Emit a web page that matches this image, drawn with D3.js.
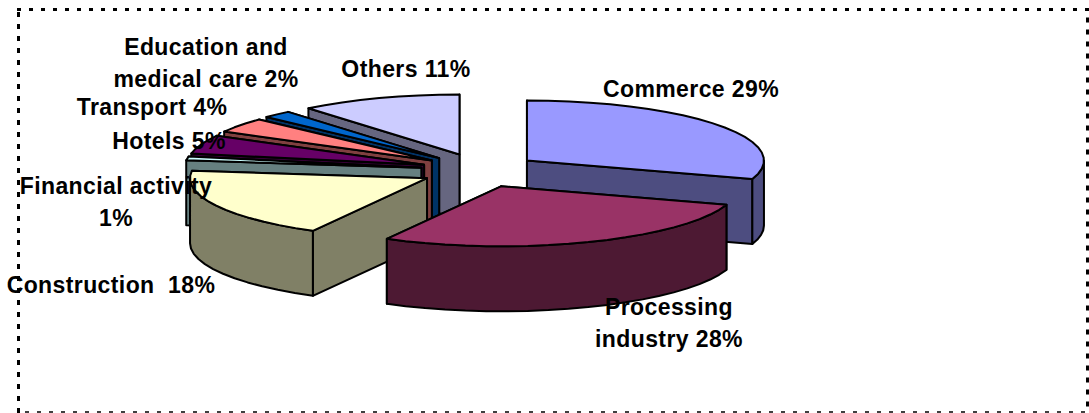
<!DOCTYPE html>
<html lang="en">
<head>
<meta charset="UTF-8" />
<script src="https://d3js.org/d3.v7.min.js"></script>
<style>
  html, body { margin: 0; padding: 0; background: #fff; }
  svg { display: block; }
  text { font-family: "Liberation Sans", Arial, sans-serif; font-weight: bold; font-size: 23px; letter-spacing: 0.4px; fill: #000; }
</style>
</head>
<body>
<svg width="1089" height="413"></svg>
<script>
// slices, clockwise from 12 o'clock
var categories = ['Commerce', 'Processing industry', 'Construction', 'Financial activity', 'Hotels', 'Transport', 'Education and medical care', 'Others'];
// size of each slice as drawn in the picture
var shares = [30, 28, 19, 1, 5, 4, 2, 11];
// the text printed on the chart
var labelLines = [
	['Commerce 29%'],
	['Processing', 'industry 28%'],
	['Construction  18%'],
	['Financial activity', '1%'],
	['Hotels 5%'],
	['Transport 4%'],
	['Education and', 'medical care 2%'],
	['Others 11%']
];
var topColors = ['#9999ff', '#993366', '#ffffcc', '#ccffff', '#660066', '#ff8080', '#0066cc', '#ccccff'];
var wallColors = ['#4d4d80', '#4d1933', '#808066', '#668080', '#330033', '#804040', '#003366', '#666680'];

// layout
var cx = 479.4, cy = 170.5, rx = 237, ry = 60, depth = 65;
var explodeX = 0.248, explodeY = 0.283;
// center x and first baseline of each label
var labelPos = [[691, 97], [669, 315], [111, 293], [116, 194], [169, 149], [152, 115], [206, 55], [406, 77]];
// back to front
var drawOrder = [7, 6, 5, 4, 3, 2, 0, 1];

var svg = d3.select('svg');

// frame: four sides, the bottom one is thinner
var frameSides = [
	{x1: 17, y1: 9.5, x2: 1089, y2: 9.5, w: 3, dash: '4 8'},
	{x1: 18.5, y1: 12, x2: 18.5, y2: 413, w: 3, dash: '5 7'},
	{x1: 1087.5, y1: 17.5, x2: 1087.5, y2: 413, w: 3, dash: '5 7'},
	{x1: 25, y1: 412, x2: 1085, y2: 412, w: 1.5, dash: '4 8'}
];
svg.selectAll('line.frame')
	.data(frameSides)
	.enter().append('line')
	.attr('class', 'frame')
	.attr('x1', function(d) { return d.x1; })
	.attr('y1', function(d) { return d.y1; })
	.attr('x2', function(d) { return d.x2; })
	.attr('y2', function(d) { return d.y2; })
	.attr('stroke', '#000')
	.attr('stroke-width', function(d) { return d.w; })
	.attr('stroke-dasharray', function(d) { return d.dash; });

var xScale = d3.scaleLinear().domain([-1, 1]).range([cx - rx, cx + rx]);
var yScale = d3.scaleLinear().domain([-1, 1]).range([cy - ry, cy + ry]);

var arcs = d3.pie().sort(null)(shares);

var line = d3.line()
	.x(function(d) { return d[0]; })
	.y(function(d) { return d[1]; });

// pixel position of a point in unit pie coordinates, at a height drop
function project(u, v, drop) {
	return [xScale(u), yScale(v) + drop];
}

// rim points of one slice, faceted like the original
function rimAngles(a0, a1) {
	var n = Math.max(1, Math.ceil((a1 - a0) / 0.09));
	return d3.range(n + 1).map(function(i) { return a0 + (a1 - a0) * i / n; });
}

function drawFace(points, fill) {
	svg.append('path')
		.attr('d', line(points) + 'Z')
		.attr('fill', fill)
		.attr('stroke', '#000')
		.attr('stroke-width', 2)
		.attr('stroke-linejoin', 'round');
}

drawOrder.forEach(function(i) {
	var a = arcs[i];
	var mid = (a.startAngle + a.endAngle) / 2;
	var ox = Math.sin(mid) * explodeX, oy = -Math.cos(mid) * explodeY;

	function rim(t, drop) {
		return project(ox + Math.sin(t), oy - Math.cos(t), drop);
	}
	var apexTop = project(ox, oy, 0), apexBottom = project(ox, oy, depth);

	// radial walls, the one further back first
	[a.startAngle, a.endAngle]
		.sort(function(p, q) { return rim(p, 0)[1] - rim(q, 0)[1]; })
		.forEach(function(t) {
			drawFace([apexTop, rim(t, 0), rim(t, depth), apexBottom], wallColors[i]);
		});

	// outer wall, only the part facing us
	var frontStart = Math.max(a.startAngle, Math.PI / 2);
	var frontEnd = Math.min(a.endAngle, Math.PI * 1.5);
	if (frontEnd > frontStart) {
		var ts = rimAngles(frontStart, frontEnd);
		var upper = ts.map(function(t) { return rim(t, 0); });
		var lower = ts.slice().reverse().map(function(t) { return rim(t, depth); });
		drawFace(upper.concat(lower), wallColors[i]);
	}

	// top
	var topPts = rimAngles(a.startAngle, a.endAngle).map(function(t) { return rim(t, 0); });
	drawFace([apexTop].concat(topPts), topColors[i]);
});

svg.selectAll('text.label')
	.data(labelLines)
	.enter().append('text')
	.attr('class', 'label')
	.attr('text-anchor', 'middle')
	.attr('x', function(d, i) { return labelPos[i][0]; })
	.attr('y', function(d, i) { return labelPos[i][1]; })
	.each(function(d, i) {
		d3.select(this).selectAll('tspan')
			.data(d)
			.enter().append('tspan')
			.attr('x', labelPos[i][0])
			.attr('dy', function(s, j) { return j === 0 ? 0 : 32; })
			.style('white-space', 'pre')
			.text(function(s) { return s; });
	});
</script>
</body>
</html>
